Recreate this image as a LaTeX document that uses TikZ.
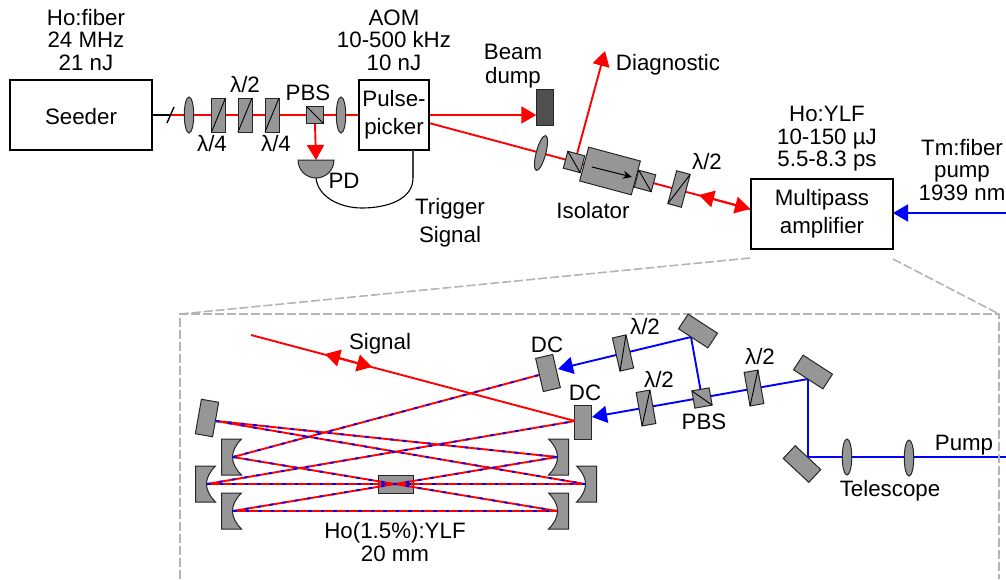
\documentclass[tikz,border=0pt]{standalone}
\usepackage{fontspec}
\setmainfont{Liberation Sans}
\usetikzlibrary{arrows.meta,shapes.geometric,backgrounds}
\definecolor{optic}{HTML}{969696}
\definecolor{dumpc}{HTML}{505050}
\definecolor{frame}{HTML}{B4B4B4}
\tikzset{
  lbl/.style={inner sep=0pt,outer sep=0pt,align=center,font=\fontsize{22.3}{22.5}\selectfont},
  lbltall/.style={lbl,font=\fontsize{22.3}{28}\selectfont},
  lblmid/.style={lbl,font=\fontsize{22.3}{24}\selectfont},
  boxn/.style={draw=black,line width=1.8pt,fill=white,inner sep=0pt,outer sep=0pt,align=center,font=\fontsize{22.3}{28}\selectfont},
  plate/.style={draw=black!85,line width=1pt,fill=optic,inner sep=0pt,outer sep=0pt,rectangle},
  wavepl/.style={plate,minimum width=14pt,minimum height=34pt},
  cube/.style={plate,minimum width=17.5pt,minimum height=17.5pt},
  mirr/.style={plate,minimum width=35pt,minimum height=17.5pt},
  dcm/.style={plate,minimum width=17.5pt,minimum height=34pt},
  lens/.style={draw=black!85,line width=1pt,fill=optic,ellipse,inner sep=0pt,outer sep=0pt,minimum width=9.5pt,minimum height=36pt},
  thinl/.style={draw=black,line width=.9pt},
  redb/.style={draw=red,line width=1.9pt},
  blueb/.style={draw=blue,line width=1.9pt},
  headr/.style={-{Triangle[length=15pt,width=17pt]}},
  dblhead/.style={{Triangle[length=15pt,width=17pt]}-{Triangle[length=15pt,width=17pt]}},
  mixb/.style={draw=blue,line width=1.9pt,dash pattern=on 3.5pt off 9pt},
  framel/.style={draw=frame,line width=1.6pt,dash pattern=on 9pt off 3pt},
  cm/.pic={\draw[plate] (-11.5,-18) -- (8.5,-18) .. controls (-3.5,-6) and (-3.5,6) .. (8.5,18) -- (-11.5,18) -- cycle;}
}
\begin{document}
\begin{tikzpicture}[x=1pt,y=-1pt]
\useasboundingbox (0,0) rectangle (1006,579);
% upper row
\node[boxn,minimum width=142pt,minimum height=70pt] (seeder) at (81,115) {\smash{\raisebox{-9.5pt}{Seeder}}};
\node[boxn,minimum width=70pt,minimum height=70pt] (pp) at (394,115) {Pulse-\\picker};
\node[boxn,minimum width=142pt,minimum height=70pt] (amp) at (822,214) {Multipass\\amplifier};
\node[lens] (l1) at (189,115) {};
\node[wavepl] (wa) at (218.5,115) {};
\node[wavepl] (wb) at (245,115) {};
\node[wavepl] (wc) at (272,115) {};
\node[cube] (pbsa) at (315,115) {};
\node[lens] (l2) at (341,115) {};
\node[plate,fill=dumpc,minimum width=17.5pt,minimum height=36pt] (dump) at (545,107) {};
\node[lens,rotate=-15] (l3) at (541,153) {};
\node[cube,rotate=-15] (isoa) at (574,162) {};
\node[plate,rotate=-15,minimum width=53.5pt,minimum height=35pt] (iso) at (610,171) {};
\node[cube,rotate=-15] (isob) at (645,181) {};
\node[wavepl,rotate=-15] (wd) at (679,189) {};
\foreach \n in {wa,wb,wc,wd}{\draw[thinl] (\n.south west) -- (\n.north east);}
\foreach \n in {pbsa,isoa,isob}{\draw[thinl] (\n.north west) -- (\n.south east);}
\coordinate (slash) at (171,115);
\coordinate (pdtop) at (316,160);
\coordinate (pdbot) at (316,178);
\coordinate (wire) at (413,178);
\coordinate (ppout) at (429,123);
\coordinate (diagfrom) at (577,154);
\coordinate (diagto) at (605,51);
\coordinate (dbla) at (699,195);
\coordinate (dblb) at (750,209);
\coordinate (pumpr) at (1006,213);
\coordinate (isoarrowa) at (592,167);
\coordinate (isoarrowb) at (632,177);
\draw[plate] (298,160) arc[start angle=180,end angle=0,radius=18] -- cycle;
\begin{scope}[on background layer]
  \draw[line width=1.8pt,black] (seeder.east) -- (slash);
  \draw[redb] (slash) -- (pp.west);
  \draw[redb,headr] (pbsa.south) -- (pdtop);
  \draw[redb,headr] (pp.east) -- (dump.west|-pp.east);
  \draw[redb] (ppout) -- (dblb);
  \draw[redb,headr] (diagfrom) -- (diagto);
  \draw[redb,dblhead] (dbla) -- (dblb);
  \draw[blueb,headr] (pumpr) -- (pumpr-|amp.east);
\end{scope}
\draw[black,line width=1.4pt] (167,123) -- (174,107);
\draw[-{Stealth[length=9pt,width=8pt]},black,line width=1pt] (isoarrowa) -- (isoarrowb);
\draw[black,line width=1.1pt] (pdbot) .. controls (318,197) and (340,208) .. (362,208) .. controls (386,208) and (413,200) .. (wire);
\draw[black!75,line width=1.4pt] (wire) -- (wire|-pp.south);
% labels upper
\node[lbl] (t1) at (86,40) {Ho:fiber\\24 MHz\\21 nJ};
\node[lbl] (t2) at (394,40) {AOM\\10-500 kHz\\10 nJ};
\node[lbl] (t3) at (212,144) {λ/4};
\node[lbl] (t4) at (245,85) {λ/2};
\node[lbl] (t5) at (276,144) {λ/4};
\node[lbl] (t6) at (308,93) {PBS};
\node[lbl] (t7) at (344,181) {PD};
\node[lbltall] (t8) at (450,223) {Trigger\\Signal};
\node[lblmid] (t9) at (513,66) {Beam\\dump};
\node[lbl] (t10) at (668,65) {Diagnostic};
\node[lbl] (t11) at (593,211) {Isolator};
\node[lbl] (t12) at (707,162) {λ/2};
\node[lbl] (t13) at (827,139) {Ho:YLF\\10-150 µJ\\5.5-8.3 ps};
\node[lbl] (t14) at (962,170) {Tm:fiber\\pump\\1939 nm};
% frame
\coordinate (fa) at (750,258);
\coordinate (fb) at (180,314);
\coordinate (fc) at (893,259);
\coordinate (fd) at (999,314);
\coordinate (fe) at (180,579);
\coordinate (ff) at (999,579);
\draw[framel] (fa) -- (fb);
\draw[framel] (fc) -- (fd);
\draw[framel] (fe) -- (fb) -- (fd) -- (ff);
% lower: optics
\node[plate,minimum width=35pt,minimum height=17.5pt] (xtal) at (395.5,484.5) {};
\node[plate,rotate=-10,minimum width=17.5pt,minimum height=35pt] (mtl) at (207,418) {};
\node[dcm,rotate=13] (dca) at (548,373) {};
\node[dcm] (dcb) at (583,422) {};
\node[wavepl,rotate=13] (we) at (623,353) {};
\node[wavepl,rotate=10] (wf) at (646,408) {};
\node[wavepl,rotate=10] (wg) at (754,388) {};
\node[cube,rotate=10] (pbsb) at (702,398) {};
\foreach \n in {we,wf,wg}{\draw[thinl] (\n.south west) -- (\n.north east);}
\draw[thinl] (pbsb.north west) -- (pbsb.south east);
\node[mirr,rotate=-33] (ma) at (698,331) {};
\node[mirr,rotate=-33] (mb) at (813,372) {};
\node[mirr,rotate=-43] (mc) at (802,464) {};
\node[lens] (l4) at (847,457) {};
\node[lens] (l5) at (909,458) {};
\coordinate (lu) at (233,457);
\coordinate (lm) at (207,484);
\coordinate (ll) at (233,511);
\coordinate (ru) at (557,457);
\coordinate (rm) at (585,484);
\coordinate (rl) at (557,511);
\coordinate (mtlhit) at (216,421);
\coordinate (dcahit) at (539,375);
\coordinate (dcbhit) at (575,421);
\coordinate (dcain) at (558,369);
\coordinate (dcbin) at (592,417);
\coordinate (mahit) at (691,337);
\coordinate (mbhit) at (808,379);
\coordinate (mchit) at (808,457);
\coordinate (pumpend) at (1006,457);
\coordinate (sigstart) at (251,335);
\coordinate (siga) at (325,354);
\coordinate (sigb) at (372,367);
\pic at (lu) {cm};
\pic at (lm) {cm};
\pic at (ll) {cm};
\pic[xscale=-1] at (ru) {cm};
\pic[xscale=-1] at (rm) {cm};
\pic[xscale=-1] at (rl) {cm};
\begin{scope}[on background layer]
  \draw[blueb,headr] (mahit) -- (dcain);
  \draw[blueb] (mahit) -- (pbsb);
  \draw[blueb,headr] (mbhit) -- (dcbin);
  \draw[blueb] (mbhit) -- (mchit);
  \draw[blueb] (mchit) -- (pumpend);
\end{scope}
% multipass beams
\foreach \p/\q in {mtlhit/ru,mtlhit/rm,lu/dcahit,lu/rl,lm/dcbhit,lm/rm,ll/ru,ll/rl}{
  \draw[redb] (\p) -- (\q);
  \draw[mixb] (\p) -- (\q);
}
\draw[redb] (sigstart) -- (dcbhit);
\draw[redb,dblhead] (siga) -- (sigb);
% lower labels
\node[lbl] (t15) at (380,344) {Signal};
\node[lbl] (t16) at (547,345) {DC};
\node[lbl] (t17) at (585,393) {DC};
\node[lbl] (t18) at (645,327) {λ/2};
\node[lbl] (t19) at (659,380) {λ/2};
\node[lbl] (t20) at (760,357) {λ/2};
\node[lbl] (t21) at (704,422) {PBS};
\node[lbl] (t22) at (964,445) {Pump};
\node[lbl] (t23) at (890,491) {Telescope};
\node[lbl] (t24) at (395,542) {Ho(1.5\%):YLF\\20 mm};
\end{tikzpicture}
\end{document}
